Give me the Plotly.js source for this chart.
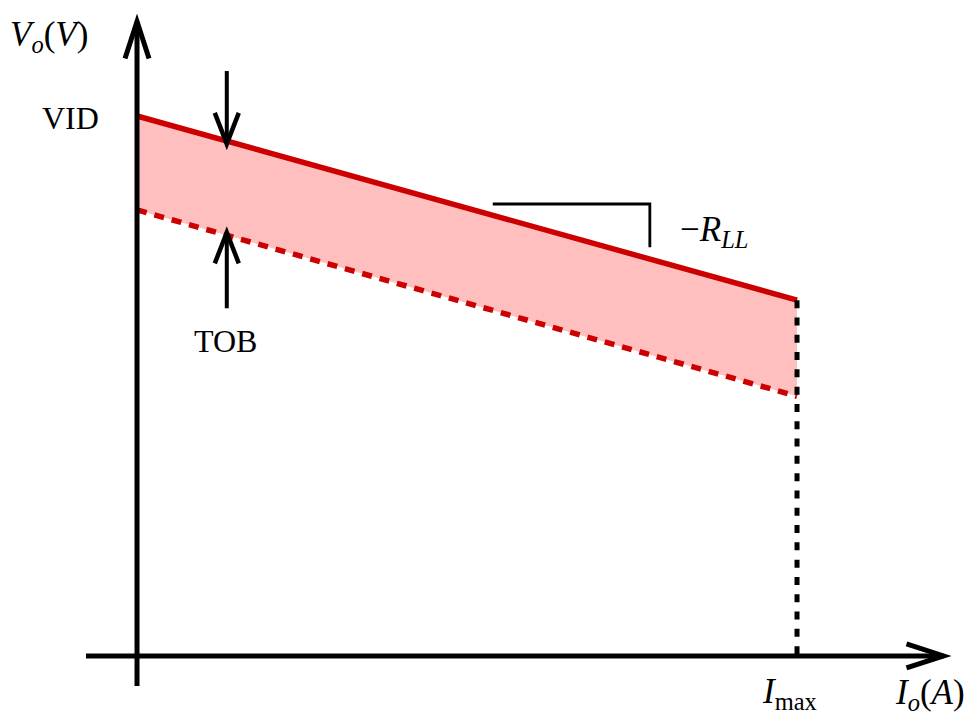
<!DOCTYPE html>
<html>
<head>
<meta charset="utf-8">
<script src="https://cdn.plot.ly/plotly-3.0.1.min.js"></script>
<style>html,body{margin:0;padding:0;background:#fff}</style>
</head>
<body>
<div id="chart" style="width:971px;height:717px"></div>
<script>
// Load line of a regulator: output voltage drops with load current,
// the band between the two lines is the tolerance (TOB) below VID.
const current = [0, 1];            // I_o, normalised to I_max
const vUpper = [1.000, 0.659];     // VID down the load line
const vLower = [0.826, 0.481];     // VID - TOB down the load line
const iMax = 1;

const W = 971, H = 717;
const xRange = [-0.2076, 1.2636];
const yRange = [-0.1130, 1.2148];
const pxX = W / (xRange[1] - xRange[0]);   // pixels per unit of current
const pxY = H / (yRange[1] - yRange[0]);   // pixels per unit of voltage
const dx = p => p / pxX;
const dy = p => p / pxY;

const RED = '#cc0000';
const PINK = '#ffbfbf';
const SERIF = '"Liberation Serif", "DejaVu Serif", serif';
const FONT = {family: SERIF, size: 32, color: '#000'};
const MATH = {family: SERIF, size: 35, color: '#000'};

// voltage on a two-point line at current i
const vAt = (line, i) => line[0] + (line[1] - line[0]) * (i - current[0]) / (current[1] - current[0]);

// open "V" arrow head: tip at (ti, tv), pointing along (ux, uy) in screen space (y up)
function vee(ti, tv, ux, uy, len, half, width) {
  const bx = -len * ux, by = -len * uy;
  const px = -uy * half, py = ux * half;
  const a1 = [ti + dx(bx + px), tv + dy(by + py)];
  const a2 = [ti + dx(bx - px), tv + dy(by - py)];
  return {
    type: 'path', xref: 'x', yref: 'y',
    path: `M ${a1[0]},${a1[1]} L ${ti},${tv} L ${a2[0]},${a2[1]}`,
    line: {color: '#000', width: width}
  };
}
function seg(x0, y0, x1, y1, width) {
  return {type: 'line', xref: 'x', yref: 'y', x0, y0, x1, y1,
    line: {color: '#000', width: width}};
}

const traces = [
  { // tolerance band
    x: current.concat(current.slice().reverse()),
    y: vUpper.concat(vLower.slice().reverse()),
    mode: 'lines', fill: 'toself', fillcolor: PINK,
    line: {width: 0}, hoverinfo: 'skip'
  },
  { // lower bound, dashed
    x: current, y: vLower, mode: 'lines',
    line: {color: RED, width: 5.5, dash: '10px,8px'}
  },
  { // load line from VID
    x: current, y: vUpper, mode: 'lines',
    line: {color: RED, width: 5.5}
  },
  { // I_max drop line
    x: [iMax, iMax], y: [vUpper[1], 0], mode: 'lines',
    line: {color: '#000', width: 5, dash: '8px,9.3px'}
  }
];

// axes with arrow heads
const yAxisTop = 1.1907, yAxisBottom = -0.0556;
const xAxisRight = 1.2348, xAxisLeft = -0.0773;
const axTipY = yAxisTop - dy(8.5);
const axTipX = xAxisRight - dx(8.5);

// TOB markers
const markI = 0.136;
const upTip = vAt(vUpper, markI) - dy(2.9);
const loTip = vAt(vLower, markI) + dy(2.9);

const shapes = [
  seg(0, yAxisBottom, 0, axTipY, 5),
  vee(0, axTipY, 0, 1, 37, 12, 5),
  seg(xAxisLeft, 0, axTipX, 0, 5),
  vee(axTipX, 0, 1, 0, 37, 12, 5),

  seg(markI, vAt(vUpper, markI) + dy(70), markI, upTip, 4),
  vee(markI, upTip, 0, -1, 31, 12, 4.5),
  seg(markI, vAt(vLower, markI) - dy(73), markI, loTip, 4),
  vee(markI, loTip, 0, 1, 31, 12, 4.5),

  { // slope mark
    type: 'path', xref: 'x', yref: 'y',
    path: 'M 0.539,0.837 L 0.777,0.837 L 0.777,0.757',
    line: {color: '#000', width: 2.8}
  }
];

const P = (x, y) => ({x: x / W, y: 1 - y / H});
function label(text, px, py, xanchor, font) {
  const p = P(px, py);
  return {xref: 'paper', yref: 'paper', x: p.x, y: p.y, text: text,
    showarrow: false, xanchor: xanchor || 'center', yanchor: 'middle', font: font || FONT};
}

const annotations = [
  label('<i>V</i><sub><i>o</i></sub>(<i>V</i>)', 8, 36, 'left', MATH),
  label('VID', 101, 118, 'right'),
  label('TOB', 225, 341),
  label('−<i>R</i><sub><i>LL</i></sub>', 678, 232, 'left', MATH),
  label('<i>I</i><sub>max</sub>', 789, 693, 'center', MATH),
  label('<i>I</i><sub><i>o</i></sub>(<i>A</i>)', 967, 694, 'right', MATH)
];

const layout = {
  width: W, height: H,
  margin: {l: 0, r: 0, t: 0, b: 0},
  paper_bgcolor: '#fff', plot_bgcolor: '#fff',
  showlegend: false,
  xaxis: {range: xRange, visible: false, fixedrange: true},
  yaxis: {range: yRange, visible: false, fixedrange: true},
  shapes: shapes,
  annotations: annotations
};

Plotly.newPlot('chart', traces, layout, {displayModeBar: false, staticPlot: true});
</script>
</body>
</html>
